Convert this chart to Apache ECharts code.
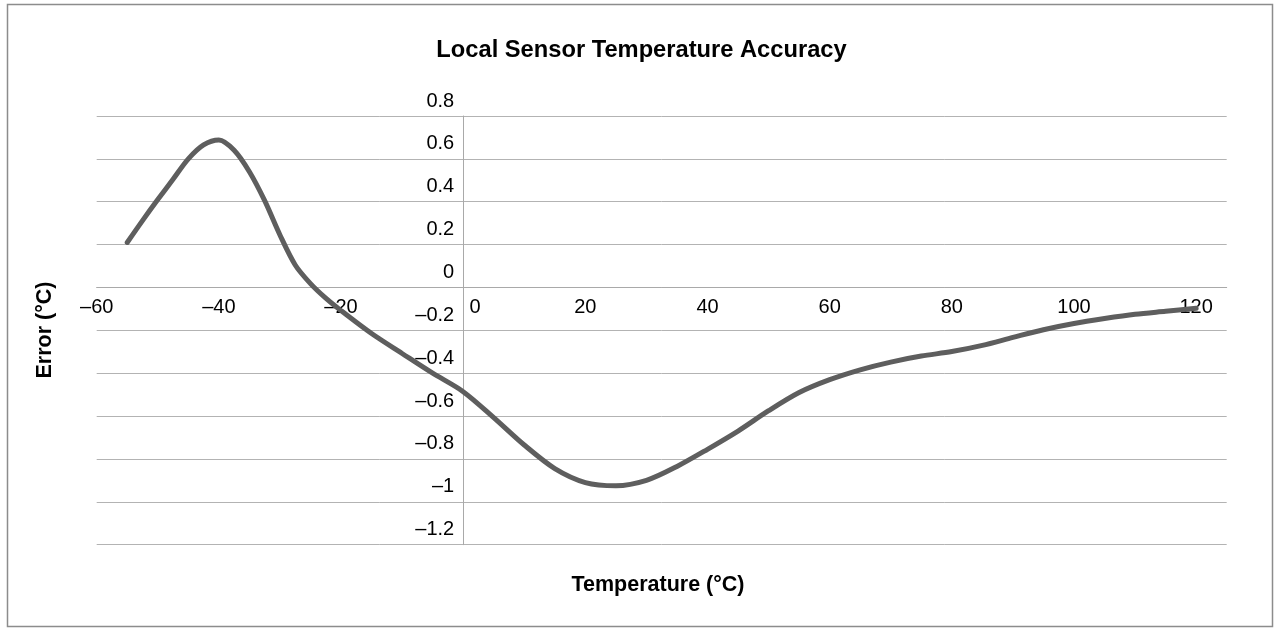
<!DOCTYPE html>
<html>
<head>
<meta charset="utf-8">
<script src="https://cdn.jsdelivr.net/npm/echarts@6/dist/echarts.min.js"></script>
<style>
html,body{margin:0;padding:0;background:#fff;}
#chart{width:1279px;height:628px;}
</style>
</head>
<body>
<div id="chart"></div>
<script>
// ---- data ----
const temperatures = [-55, -52.5, -50, -47.5, -45, -42.5, -40, -37.5, -35, -32.5, -30, -27.5, -25, -22.5, -20, -15, -10, -5, 0, 5, 10, 15, 20, 25, 30, 35, 40, 45, 50, 55, 60, 65, 70, 75, 80, 85, 90, 95, 100, 105, 110, 115, 120];
const errors = [0.21, 0.312, 0.41, 0.505, 0.60, 0.665, 0.688, 0.64, 0.54, 0.405, 0.245, 0.105, 0.018, -0.05, -0.108, -0.215, -0.308, -0.40, -0.486, -0.607, -0.735, -0.845, -0.91, -0.925, -0.90, -0.835, -0.755, -0.67, -0.575, -0.49, -0.43, -0.384, -0.348, -0.32, -0.299, -0.27, -0.233, -0.197, -0.168, -0.145, -0.125, -0.111, -0.097];
const xTickValues = [-60, -40, -20, 0, 20, 40, 60, 80, 100, 120];
const xTickLabels = ['–60', '–40', '–20', '0', '20', '40', '60', '80', '100', '120'];
const yTickValues = [-1.2, -1, -0.8, -0.6, -0.4, -0.2, 0, 0.2, 0.4, 0.6, 0.8];
const yTickLabels = ['–1.2', '–1', '–0.8', '–0.6', '–0.4', '–0.2', '0', '0.2', '0.4', '0.6', '0.8'];
const titleText = 'Local Sensor Temperature Accuracy';
const xName = 'Temperature (°C)';
const yName = 'Error (°C)';

const FONT = "'Liberation Sans', Arial, Helvetica, sans-serif";
const chart = echarts.init(document.getElementById('chart'), null, {renderer: 'canvas'});

function findIdx(arr, v) {
  for (let i = 0; i < arr.length; i++) if (Math.abs(arr[i] - v) < 1e-6) return i;
  return -1;
}

const GRID_LEFT = 96.7, GRID_RIGHT = 52.3, GRID_TOP = 116, GRID_BOTTOM = 83.3;
const X_MIN = -60, X_MAX = 125, Y_MIN = -1.2, Y_MAX = 0.8;
const plotW = 1279 - GRID_LEFT - GRID_RIGHT;
const plotH = 628 - GRID_TOP - GRID_BOTTOM;
// shift axes so they cross at the origin (value 0 of the other axis)
const yAxisOffset = -((0 - X_MIN) / (X_MAX - X_MIN)) * plotW;
const xAxisOffset = -((0 - Y_MIN) / (Y_MAX - Y_MIN)) * plotH;

const option = {
  animation: false,
  backgroundColor: '#ffffff',
  grid: {left: GRID_LEFT, right: GRID_RIGHT, top: GRID_TOP, bottom: GRID_BOTTOM, containLabel: false},
  xAxis: {
    type: 'value', min: X_MIN, max: X_MAX, interval: 20,
    position: 'bottom', offset: xAxisOffset,
    axisLine: {show: true, onZero: false, lineStyle: {color: '#a9a9a9', width: 1}},
    axisTick: {show: false},
    splitLine: {show: false},
    axisLabel: {
      margin: 10, fontSize: 20, color: '#000', fontFamily: FONT,
      formatter: function (v) {
        const i = findIdx(xTickValues, v);
        if (i < 0) return '';
        if (v === 0) return '{z|' + xTickLabels[i] + '}';
        return xTickLabels[i];
      },
      rich: {z: {fontSize: 20, color: '#000', fontFamily: FONT, padding: [0, 0, 0, 24]}}
    }
  },
  yAxis: {
    type: 'value', min: Y_MIN, max: Y_MAX, interval: 0.2,
    position: 'left', offset: yAxisOffset,
    axisLine: {show: true, onZero: false, lineStyle: {color: '#a9a9a9', width: 1}},
    axisTick: {show: false},
    splitLine: {show: true, lineStyle: {color: '#b3b3b3', width: 1}},
    axisLabel: {
      margin: 9, fontSize: 20, color: '#000', fontFamily: FONT,
      formatter: function (v) {
        const i = findIdx(yTickValues, v);
        return i < 0 ? '' : '{a|' + yTickLabels[i] + '}';
      },
      rich: {a: {fontSize: 20, color: '#000', fontFamily: FONT, padding: [0, 0, 30, 0]}}
    }
  },
  graphic: [
    {type: 'rect', silent: true, shape: {x: 7.5, y: 4.5, width: 1265, height: 622},
     style: {fill: 'none', stroke: '#8c8c8c', lineWidth: 1.5}},
    {type: 'text', silent: true, x: 641.5, y: 50,
     style: {text: titleText, font: 'bold 23.7px ' + FONT, fill: '#000', align: 'center', verticalAlign: 'middle'}},
    {type: 'text', silent: true, x: 658, y: 585,
     style: {text: xName, font: 'bold 21.5px ' + FONT, fill: '#000', align: 'center', verticalAlign: 'middle'}},
    {type: 'text', silent: true, x: 45, y: 330, rotation: Math.PI / 2,
     style: {text: yName, font: 'bold 21.5px ' + FONT, fill: '#000', align: 'center', verticalAlign: 'middle'}}
  ],
  series: [{
    type: 'line',
    data: temperatures.map((t, i) => [t, errors[i]]),
    smooth: 0.3,
    showSymbol: false,
    symbol: 'none',
    lineStyle: {color: '#5e5e5e', width: 5, cap: 'round', join: 'round'},
    z: 5
  }]
};
chart.setOption(option);
</script>
</body>
</html>
